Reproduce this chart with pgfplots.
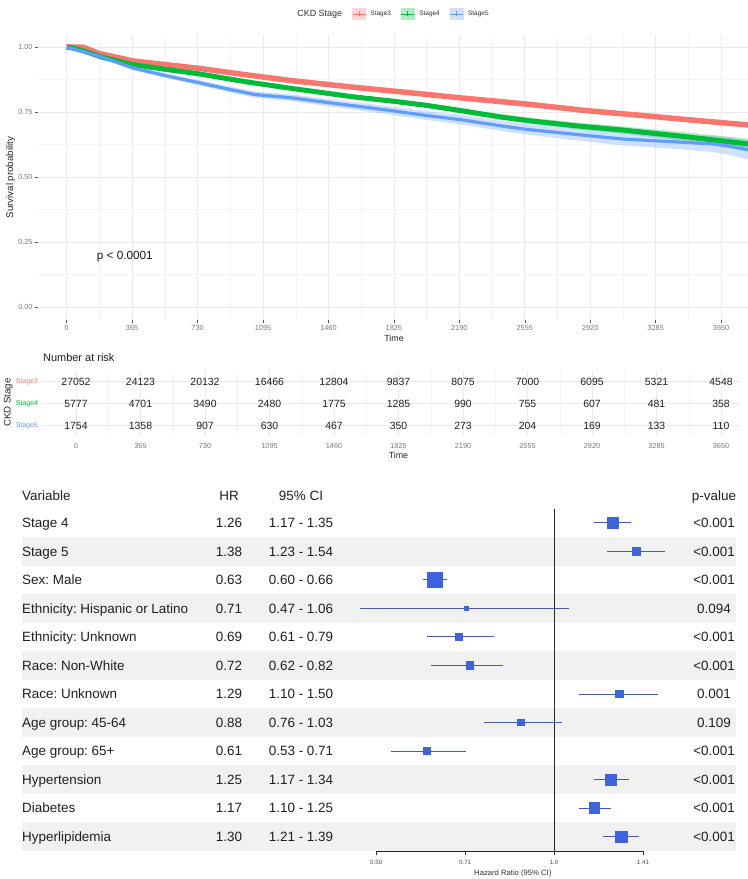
\documentclass[border=0pt]{standalone}
\usepackage{fontspec}
\setmainfont{Liberation Sans}
\usepackage{pgfplots}
\pgfplotsset{compat=1.18}
\usepackage{pgfplotstable}
\usepgfplotslibrary{fillbetween}

\definecolor{cA}{HTML}{F8766D}
\definecolor{cB}{HTML}{00BA38}
\definecolor{cC}{HTML}{619CFF}
\definecolor{gmaj}{HTML}{EBEBEB}
\definecolor{gmin}{HTML}{F5F5F5}
\definecolor{tlab}{HTML}{7A7A7A}
\definecolor{sq}{HTML}{3D63DD}
\definecolor{cil}{HTML}{4A5AA8}
\definecolor{band}{HTML}{F1F1F1}

\newcommand\fs[1]{\fontsize{#1}{#1}\selectfont}
\tikzset{lbl/.style={font=\fs{13.5}, text=black!88, inner sep=0pt, yshift=-4.8bp}}

% Stage3
\pgfplotstableread{
t s lo hi
0 1.000 1.000 1.000
93 0.999 0.998 1.000
180 0.975 0.973 0.977
371 0.946 0.943 0.949
550 0.932 0.929 0.935
734 0.918 0.915 0.921
1000 0.893 0.889 0.897
1260 0.870 0.866 0.874
1600 0.845 0.841 0.849
1915 0.824 0.819 0.829
2200 0.804 0.799 0.809
2417 0.790 0.785 0.795
2584 0.779 0.774 0.784
2900 0.755 0.749 0.761
3200 0.737 0.731 0.743
3500 0.718 0.712 0.724
3800 0.700 0.693 0.707
}\tA
% Stage4
\pgfplotstableread{
t s lo hi
0 1.000 1.000 1.000
40 0.995 0.993 0.997
93 0.985 0.982 0.988
200 0.960 0.956 0.964
371 0.932 0.927 0.937
550 0.914 0.909 0.919
734 0.897 0.891 0.903
1000 0.866 0.859 0.873
1260 0.840 0.833 0.847
1600 0.808 0.800 0.816
1825 0.791 0.782 0.800
2000 0.776 0.767 0.785
2200 0.755 0.745 0.765
2417 0.731 0.720 0.742
2584 0.716 0.704 0.728
2850 0.696 0.683 0.709
3108 0.680 0.666 0.694
3450 0.655 0.638 0.672
3800 0.627 0.607 0.647
}\tB
% Stage5
\pgfplotstableread{
t s lo hi
0 1.000 1.000 1.000
30 0.993 0.989 0.997
93 0.982 0.976 0.988
200 0.960 0.953 0.967
371 0.919 0.911 0.927
550 0.890 0.881 0.899
734 0.863 0.853 0.873
900 0.838 0.827 0.849
1050 0.817 0.805 0.829
1260 0.804 0.791 0.817
1460 0.786 0.772 0.800
1700 0.765 0.750 0.780
1825 0.754 0.738 0.770
2000 0.737 0.720 0.754
2190 0.721 0.703 0.739
2417 0.697 0.678 0.716
2555 0.684 0.664 0.704
2750 0.670 0.648 0.692
2920 0.658 0.635 0.681
3100 0.646 0.621 0.671
3285 0.639 0.613 0.665
3450 0.633 0.605 0.661
3605 0.627 0.596 0.658
3700 0.618 0.584 0.652
3800 0.604 0.567 0.641
}\tC
% Number at risk
\pgfplotstableread{
t r n
0 3 27052
365 3 24123
730 3 20132
1095 3 16466
1460 3 12804
1825 3 9837
2190 3 8075
2555 3 7000
2920 3 6095
3285 3 5321
3650 3 4548
0 2 5777
365 2 4701
730 2 3490
1095 2 2480
1460 2 1775
1825 2 1285
2190 2 990
2555 2 755
2920 2 607
3285 2 481
3650 2 358
0 1 1754
365 1 1358
730 1 907
1095 1 630
1460 1 467
1825 1 350
2190 1 273
2555 1 204
2920 1 169
3285 1 133
3650 1 110
}\risk

\newcommand\frow[5]{%
  \addplot[cil, line width=0.9bp] coordinates {(#3,#1) (#4,#1)};
  \addplot[only marks, mark=square*, mark size=#5bp, mark options={draw=sq, fill=sq, line width=0pt}] coordinates {(#2,#1)};
}
\newcommand\trow[5]{%
  \node[lbl, anchor=base west] at (axis cs:22,#1) {#2};
  \node[lbl, anchor=base] at (axis cs:229,#1) {#3};
  \node[lbl, anchor=base] at (axis cs:301,#1) {#4};
  \node[lbl, anchor=base] at (axis cs:714,#1) {#5};
}

\begin{document}
\frenchspacing
\begin{tikzpicture}

%================ KM curves
\begin{axis}[
  at={(38bp,559bp)}, anchor=south west, scale only axis,
  width=710bp, height=285bp,
  xmin=-160, xmax=3800, ymin=-0.05, ymax=1.046,
  xtick={0,365,730,1095,1460,1825,2190,2555,2920,3285,3650},
  xticklabels={0,365,730,1095,1460,1825,2190,2555,2920,3285,3650},
  minor xtick={182.5,547.5,912.5,1277.5,1642.5,2007.5,2372.5,2737.5,3102.5,3467.5},
  ytick={0,0.25,0.5,0.75,1}, yticklabels={0.00,0.25,0.50,0.75,1.00},
  minor ytick={0.125,0.375,0.625,0.875},
  grid=both,
  major grid style={draw=gmaj, line width=0.6bp},
  minor grid style={draw=gmin, line width=0.4bp},
  axis line style={draw=none},
  tick align=outside, major tick length=2.7bp, minor tick length=0pt,
  major tick style={draw=black!65, line width=0.5bp},
  xtick pos=bottom, ytick pos=left,
  ticklabel style={font=\fs{7.4}, text=tlab, inner sep=0pt},
  xticklabel shift=2bp, yticklabel shift=2.5bp,
  xlabel={Time}, xlabel style={at={(axis description cs:0.5014,-0.0642)}, anchor=center, font=\fs{8.9}, text=black!85, inner sep=0pt},
  ylabel={Survival probability}, ylabel style={at={(axis description cs:-0.0385,0.5)}, anchor=center, font=\fs{9.7}, text=black!85, inner sep=0pt},
  legend columns=-1,
  legend cell align=left,
  legend style={at={(axis description cs:0.4975,1.0737)}, anchor=center, draw=none, fill=none,
    inner sep=0pt, font=\fs{6.5}, text=black!80,
    nodes={inner sep=1bp},
    /tikz/every odd column/.append style={column sep=3.5bp},
    /tikz/every even column/.append style={column sep=9bp}},
]
\addlegendimage{empty legend}\addlegendentry{\fs{9}CKD Stage}
\addlegendimage{legend image code/.code={\fill[cA!30] (0bp,-5.5bp) rectangle (13bp,5.5bp); \draw[cA, line width=0.8bp] (0bp,0bp) -- (13bp,0bp) (6.5bp,-2.5bp) -- (6.5bp,2.5bp);}}\addlegendentry{Stage3}
\addlegendimage{legend image code/.code={\fill[cB!30] (0bp,-5.5bp) rectangle (13bp,5.5bp); \draw[cB, line width=0.8bp] (0bp,0bp) -- (13bp,0bp) (6.5bp,-2.5bp) -- (6.5bp,2.5bp);}}\addlegendentry{Stage4}
\addlegendimage{legend image code/.code={\fill[cC!30] (0bp,-5.5bp) rectangle (13bp,5.5bp); \draw[cC, line width=0.8bp] (0bp,0bp) -- (13bp,0bp) (6.5bp,-2.5bp) -- (6.5bp,2.5bp);}}\addlegendentry{Stage5}

\addplot[draw=none, name path=Alo] table[x=t,y=lo]{\tA};
\addplot[draw=none, name path=Ahi] table[x=t,y=hi]{\tA};
\addplot[fill=cA, fill opacity=0.3, draw=none] fill between[of=Alo and Ahi];
\addplot[draw=none, name path=Blo] table[x=t,y=lo]{\tB};
\addplot[draw=none, name path=Bhi] table[x=t,y=hi]{\tB};
\addplot[fill=cB, fill opacity=0.3, draw=none] fill between[of=Blo and Bhi];
\addplot[draw=none, name path=Clo] table[x=t,y=lo]{\tC};
\addplot[draw=none, name path=Chi] table[x=t,y=hi]{\tC};
\addplot[fill=cC, fill opacity=0.3, draw=none] fill between[of=Clo and Chi];

\addplot[cA, line width=5.5bp, line join=round] table[x=t,y=s]{\tA};
\addplot[cB, line width=5bp, line join=round] table[x=t,y=s]{\tB};
\addplot[cC, line width=3.2bp, line join=round] table[x=t,y=s]{\tC};

\node[font=\fs{11.8}, text=black!90] at (axis cs:324,0.193) {p < 0.0001};
\end{axis}

%================ Risk table
\begin{axis}[
  at={(42bp,442.5bp)}, anchor=south west, scale only axis,
  width=698bp, height=65.7bp,
  xmin=-192.4, xmax=3757.5, ymin=0.5, ymax=3.5,
  xtick={0,365,730,1095,1460,1825,2190,2555,2920,3285,3650},
  xticklabels={0,365,730,1095,1460,1825,2190,2555,2920,3285,3650},
  minor xtick={182.5,547.5,912.5,1277.5,1642.5,2007.5,2372.5,2737.5,3102.5,3467.5},
  ytick={1,2,3},
  yticklabels={\textcolor{cC}{Stage5},\textcolor{cB}{Stage4},\textcolor{cA}{Stage3}},
  grid=both,
  major grid style={draw=gmaj, line width=0.5bp},
  minor grid style={draw=gmin, line width=0.4bp},
  axis line style={draw=none},
  major tick length=0pt, minor tick length=0pt,
  xticklabel style={font=\fs{7.4}, text=tlab, inner sep=0pt},
  yticklabel style={font=\fs{7}, inner sep=0pt},
  xticklabel shift=6.5bp, yticklabel shift=3.7bp,
  xlabel={Time}, xlabel style={at={(axis description cs:0.5107,-0.292)}, anchor=center, font=\fs{8.9}, text=black!85, inner sep=0pt},
  ylabel={CKD Stage}, ylabel style={at={(axis description cs:-0.0483,0.5175)}, anchor=center, font=\fs{9.7}, text=black!85, inner sep=0pt},
  clip=false,
]
\addplot[only marks, mark=none, nodes near coords, point meta=explicit symbolic,
  nodes near coords align=center,
  every node near coord/.append style={font=\fs{10.5}, text=black!88, anchor=center, inner sep=0pt}]
  table[x=t, y=r, meta=n]{\risk};
\node[anchor=west, font=\fs{11}, text=black!88, inner sep=0pt] at (axis description cs:0.0014,1.199) {Number at risk};
\end{axis}

%================ Forest table (background, text)
\begin{axis}[
  at={(0bp,28bp)}, anchor=south west, scale only axis,
  width=748bp, height=342bp,
  xmin=0, xmax=748, ymin=0.52, ymax=12.5, y dir=reverse,
  hide axis, clip=false,
]
\addplot[fill=band, draw=none] coordinates {(22,1.5) (736,1.5) (736,2.5) (22,2.5)} -- cycle;
\addplot[fill=band, draw=none] coordinates {(22,3.5) (736,3.5) (736,4.5) (22,4.5)} -- cycle;
\addplot[fill=band, draw=none] coordinates {(22,5.5) (736,5.5) (736,6.5) (22,6.5)} -- cycle;
\addplot[fill=band, draw=none] coordinates {(22,7.5) (736,7.5) (736,8.5) (22,8.5)} -- cycle;
\addplot[fill=band, draw=none] coordinates {(22,9.5) (736,9.5) (736,10.5) (22,10.5)} -- cycle;
\addplot[fill=band, draw=none] coordinates {(22,11.5) (736,11.5) (736,12.5) (22,12.5)} -- cycle;
\trow{0.04}{Variable}{HR}{95\% CI}{p-value}
\trow{1}{Stage 4}{1.26}{1.17 - 1.35}{<0.001}
\trow{2}{Stage 5}{1.38}{1.23 - 1.54}{<0.001}
\trow{3}{Sex: Male}{0.63}{0.60 - 0.66}{<0.001}
\trow{4}{Ethnicity: Hispanic or Latino}{0.71}{0.47 - 1.06}{0.094}
\trow{5}{Ethnicity: Unknown}{0.69}{0.61 - 0.79}{<0.001}
\trow{6}{Race: Non-White}{0.72}{0.62 - 0.82}{<0.001}
\trow{7}{Race: Unknown}{1.29}{1.10 - 1.50}{0.001}
\trow{8}{Age group: 45-64}{0.88}{0.76 - 1.03}{0.109}
\trow{9}{Age group: 65+}{0.61}{0.53 - 0.71}{<0.001}
\trow{10}{Hypertension}{1.25}{1.17 - 1.34}{<0.001}
\trow{11}{Diabetes}{1.17}{1.10 - 1.25}{<0.001}
\trow{12}{Hyperlipidemia}{1.30}{1.21 - 1.39}{<0.001}
\end{axis}

%================ Forest plot
\begin{axis}[
  at={(340bp,28bp)}, anchor=south west, scale only axis,
  width=400bp, height=342bp,
  xmode=log, log basis x=2,
  xmin=0.4343, xmax=2.063, ymin=0.52, ymax=12.5, y dir=reverse,
  axis line style={draw=none},
  ytick=\empty,
  xtick={0.5,0.70711,1,1.41421}, xticklabels={0.50,0.71,1.0,1.41},
  xtick pos=bottom, tick align=outside, major tick length=4bp, minor tick length=0pt,
  major tick style={draw=black!80, line width=0.6bp},
  xticklabel style={font=\fs{6.3}, text=black!70, inner sep=0pt},
  xticklabel shift=5bp,
  xlabel={Hazard Ratio (95\% CI)},
  xlabel style={at={(axis description cs:0.432,-0.0652)}, anchor=center, font=\fs{7.7}, text=black!80, inner sep=0pt},
  clip=false,
]
\addplot[black!85, line width=0.8bp] coordinates {(1,0.52) (1,12.5)};
\addplot[black!85, line width=0.7bp] coordinates {(0.5,12.5) (1.41421,12.5)};
\frow{1}{1.26}{1.17}{1.35}{5.5}
\frow{2}{1.38}{1.23}{1.54}{4.15}
\frow{3}{0.63}{0.60}{0.66}{7.5}
\frow{4}{0.71}{0.47}{1.06}{2.15}
\frow{5}{0.69}{0.61}{0.79}{3.65}
\frow{6}{0.72}{0.62}{0.82}{3.65}
\frow{7}{1.29}{1.10}{1.50}{3.65}
\frow{8}{0.88}{0.76}{1.03}{3.35}
\frow{9}{0.61}{0.53}{0.71}{3.35}
\frow{10}{1.25}{1.17}{1.34}{5.5}
\frow{11}{1.17}{1.10}{1.25}{5.35}
\frow{12}{1.30}{1.21}{1.39}{5.65}
\end{axis}
\pgfresetboundingbox
\useasboundingbox (0,0) rectangle (748bp,879bp);
\end{tikzpicture}
\end{document}
